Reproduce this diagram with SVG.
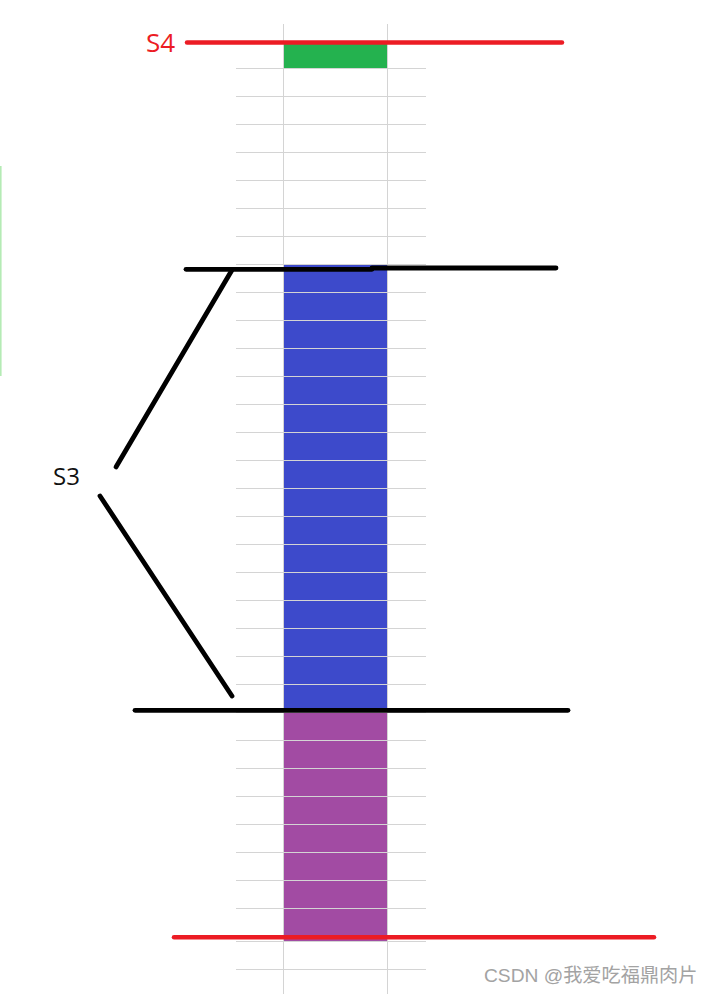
<svg xmlns="http://www.w3.org/2000/svg" width="712" height="994" viewBox="0 0 712 994">
<style>
.grid{stroke:#d4d4d4;stroke-width:1;fill:none}
.blk{stroke:#000;stroke-width:4.8;stroke-linecap:round;fill:none}
.red{stroke:#ec1c24;stroke-width:4.5;stroke-linecap:round;fill:none}
.lbl{font-family:"Open Sans","Liberation Sans",sans-serif}
</style>
<rect width="712" height="994" fill="#fff"/>
<line x1="0.8" y1="166" x2="0.8" y2="376" stroke="#b5ebb5" stroke-width="1.6"/>
<g id="green-cell"><rect x="284" y="42" width="103" height="26" fill="#24b24f"/></g>
<g id="blue-block"><rect x="284" y="265" width="103" height="445" fill="#3d4acb"/></g>
<g id="purple-block"><rect x="284" y="710" width="103" height="231" fill="#a24ba3"/></g>
<g id="grid" class="grid">
<line x1="283.5" y1="24" x2="283.5" y2="994"/>
<line x1="387.5" y1="24" x2="387.5" y2="994"/>
<path d="M236 68.5H426M236 96.5H426M236 124.5H426M236 152.5H426M236 180.5H426M236 208.5H426M236 236.5H426M236 264.5H426M236 292.5H426M236 320.5H426M236 348.5H426M236 376.5H426M236 404.5H426M236 432.5H426M236 460.5H426M236 488.5H426M236 516.5H426M236 544.5H426M236 572.5H426M236 600.5H426M236 628.5H426M236 656.5H426M236 684.5H426M236 712.5H426M236 740.5H426M236 768.5H426M236 796.5H426M236 824.5H426M236 852.5H426M236 880.5H426M236 908.5H426M236 941.5H426M236 969.5H426"/>
</g>
<g id="connectors">
<line class="red" x1="187" y1="42.5" x2="562" y2="42.5"/>
<line class="red" x1="174" y1="937.3" x2="654" y2="937.3"/>
<line class="blk" x1="186" y1="269.3" x2="372" y2="269.3"/>
<line class="blk" x1="372" y1="268" x2="556" y2="268"/>
<line class="blk" x1="232" y1="270" x2="116" y2="467"/>
<line class="blk" x1="100" y1="496" x2="232" y2="696"/>
<line class="blk" x1="135" y1="710.3" x2="568" y2="710.3"/>
</g>
<g id="label-s4"><text class="lbl" x="146" y="52" font-size="26" fill="#ec1c24">S4</text></g>
<g id="label-s3"><text class="lbl" x="53" y="485" font-size="24" fill="#111">S3</text></g>
<text x="484" y="982" font-family="'Liberation Sans','Noto Sans CJK SC',sans-serif" font-size="19.2" fill="#a3a3a3">CSDN @我爱吃福鼎肉片</text>
</svg>
